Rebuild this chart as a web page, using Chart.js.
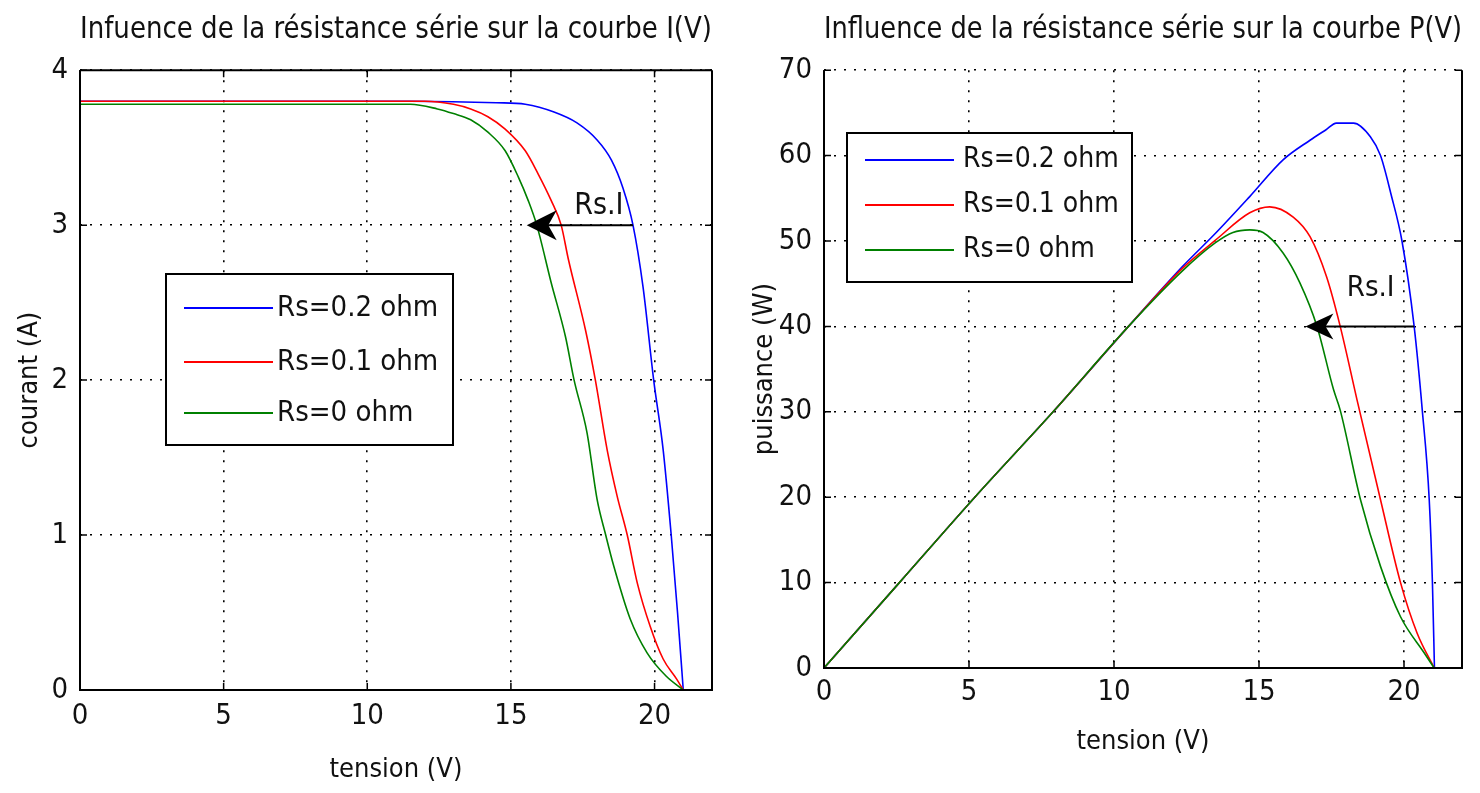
<!DOCTYPE html>
<html>
<head>
<meta charset="utf-8">
<script src="https://cdn.jsdelivr.net/npm/chart.js@4.4.0/dist/chart.umd.min.js"></script>
<style>
  body { margin: 0; background: #fff; }
  .box { position: absolute; top: 0; width: 740px; height: 793px; }
</style>
</head>
<body>
<div class="box" style="left:0"><canvas id="chartIV" width="740" height="793"></canvas></div>
<div class="box" style="left:740px"><canvas id="chartPV" width="740" height="793"></canvas></div>
<script>
// Labels
const seriesLabels = ["Rs=0.2 ohm", "Rs=0.1 ohm", "Rs=0 ohm"];
const seriesColors = ["#0000ff", "#ff0000", "#008000"];

// I(V) curves - tension (V) / courant (A)
const vBlueIV = [0, 11.5, 14.5, 15.5, 16.5, 17.3, 18.0, 18.5, 18.9, 19.25, 19.6, 19.97, 20.3, 20.58, 20.8, 21.0];
const iBlue = [3.80, 3.80, 3.79, 3.78, 3.73, 3.66, 3.55, 3.42, 3.24, 3.00, 2.60, 2.00, 1.55, 1.00, 0.50, 0];
const vRedIV = [0, 12.0, 13.0, 13.6, 14.2, 14.8, 15.5, 15.95, 16.4, 16.75, 17.0, 17.6, 17.94, 18.35, 18.7, 19.05, 19.4, 19.85, 20.3, 20.77, 21.0];
const iRed = [3.80, 3.80, 3.78, 3.75, 3.70, 3.62, 3.48, 3.33, 3.16, 3.00, 2.78, 2.32, 2.00, 1.55, 1.25, 1.00, 0.69, 0.41, 0.20, 0.07, 0];
const vGreenIV = [0, 11.5, 12.44, 13.0, 13.6, 14.2, 14.8, 15.26, 15.6, 15.9, 16.4, 16.9, 17.2, 17.65, 18.0, 18.3, 18.58, 19.15, 19.74, 20.4, 21.0];
const iGreen = [3.78, 3.78, 3.75, 3.72, 3.68, 3.60, 3.48, 3.31, 3.16, 3.00, 2.63, 2.28, 2.00, 1.66, 1.23, 1.00, 0.80, 0.46, 0.24, 0.09, 0];

// P(V) curves - tension (V) / puissance (W)
const vBluePV = [0, 2.6, 5.2, 7.9, 10.5, 12.36, 13.5, 14.68, 15.83, 16.76, 17.3, 17.67, 18.26, 18.84, 19.19, 19.55, 19.93, 20.35, 20.63, 20.87, 20.98, 21.05];
const pBlue = [0, 10, 20, 30, 40, 47.0, 50.9, 55.2, 59.5, 61.8, 63.0, 63.8, 63.8, 62.2, 60.0, 55.5, 50.0, 40, 30.2, 19.7, 10, 0];
const vRedPV = [0, 2.6, 5.2, 7.9, 10.5, 12.36, 13.5, 14.68, 15.37, 16.18, 16.76, 17.33, 17.8, 18.38, 19.19, 19.88, 20.45, 21.04];
const pRed = [0, 10, 20, 30, 40, 46.8, 50.1, 53.3, 54.0, 52.8, 50.5, 45.8, 40, 31.4, 19.7, 10, 4.1, 0];
const vGreenPV = [0, 2.6, 5.2, 7.9, 10.5, 12.36, 13.5, 14.1, 14.68, 15.14, 15.83, 16.41, 17.0, 17.57, 17.8, 18.5, 19.19, 19.88, 20.7, 21.04];
const pGreen = [0, 10, 20, 30, 40, 46.5, 49.8, 51.0, 51.3, 51.0, 48.6, 45.1, 40, 32.6, 30.2, 19.7, 11.9, 6.0, 1.75, 0];

// Rs.I arrows: [tail x, tip x, y, label x, label y]
const arrowIV = [19.25, 15.55, 3.0, 18.06, 3.12];
const arrowPV = [20.35, 16.6, 40, 18.85, 44.5];

const FONT = "'Liberation Sans Narrow', 'DejaVu Sans Condensed', 'Liberation Sans', sans-serif";
const TXT = "#111";

const toPoints = (xs, ys) => xs.map((x, i) => ({ x: x, y: ys[i] }));

const makeDatasets = (series) => series.map((s, i) => ({
  label: seriesLabels[i],
  data: toPoints(s[0], s[1]),
  borderColor: seriesColors[i],
  borderWidth: 1.6,
  pointRadius: 0,
  fill: false,
  cubicInterpolationMode: "monotone",
  order: 3 - i
}));

// frame, inward ticks, legend box and arrow
const extrasPlugin = {
  id: "extras",
  afterDatasetsDraw(chart, args, opts) {
    const { ctx, chartArea: a, scales } = chart;
    ctx.save();
    ctx.strokeStyle = "#000";
    ctx.lineWidth = 2;
    ctx.beginPath();
    if (opts.topBorder) { ctx.moveTo(a.left, a.top); ctx.lineTo(a.right, a.top); }
    ctx.moveTo(a.left, a.top); ctx.lineTo(a.left, a.bottom);
    ctx.lineTo(a.right, a.bottom); ctx.lineTo(a.right, a.top);
    ctx.stroke();

    ctx.lineWidth = 1.5;
    ctx.beginPath();
    scales.x.ticks.forEach(t => {
      const p = scales.x.getPixelForValue(t.value);
      ctx.moveTo(p, a.bottom); ctx.lineTo(p, a.bottom - 7);
      if (opts.topBorder) { ctx.moveTo(p, a.top); ctx.lineTo(p, a.top + 7); }
    });
    scales.y.ticks.forEach(t => {
      const p = scales.y.getPixelForValue(t.value);
      ctx.moveTo(a.left, p); ctx.lineTo(a.left + 7, p);
      ctx.moveTo(a.right, p); ctx.lineTo(a.right - 7, p);
    });
    ctx.stroke();

    // legend
    const lg = opts.legend;
    ctx.fillStyle = "#fff";
    ctx.fillRect(lg.x0, lg.y0, lg.x1 - lg.x0, lg.y1 - lg.y0);
    ctx.lineWidth = 2;
    ctx.strokeStyle = "#000";
    ctx.strokeRect(lg.x0, lg.y0, lg.x1 - lg.x0, lg.y1 - lg.y0);
    ctx.font = lg.size + "px " + FONT;
    ctx.textBaseline = "middle";
    ctx.textAlign = "left";
    chart.data.datasets.forEach((ds, i) => {
      const y = lg.rows[i];
      ctx.strokeStyle = ds.borderColor;
      ctx.lineWidth = 2;
      ctx.beginPath(); ctx.moveTo(lg.l0, y); ctx.lineTo(lg.l1, y); ctx.stroke();
      ctx.fillStyle = TXT;
      ctx.fillText(ds.label, lg.tx, y);
    });

    // arrow
    const ar = opts.arrow;
    const xt = scales.x.getPixelForValue(ar.data[0]);
    const xh = scales.x.getPixelForValue(ar.data[1]);
    const ya = scales.y.getPixelForValue(ar.data[2]);
    ctx.strokeStyle = "#000";
    ctx.lineWidth = 2;
    ctx.beginPath(); ctx.moveTo(xt, ya); ctx.lineTo(xh + 10, ya); ctx.stroke();
    ctx.fillStyle = "#000";
    ctx.beginPath();
    ctx.moveTo(xh, ya);
    ctx.lineTo(xh + ar.len, ya - ar.w);
    ctx.lineTo(xh + ar.len * 0.72, ya);
    ctx.lineTo(xh + ar.len, ya + ar.w);
    ctx.closePath();
    ctx.fill();
    ctx.font = ar.size + "px " + FONT;
    ctx.textAlign = "center";
    ctx.fillStyle = TXT;
    ctx.fillText("Rs.I", scales.x.getPixelForValue(ar.data[3]), scales.y.getPixelForValue(ar.data[4]));
    ctx.restore();
  }
};

const buildChart = (id, cfg) => new Chart(document.getElementById(id), {
  type: "line",
  data: { datasets: cfg.datasets },
  plugins: [extrasPlugin],
  options: {
    responsive: false,
    animation: false,
    layout: { padding: { left: 0, right: cfg.padRight, top: 0, bottom: 0 } },
    plugins: {
      legend: { display: false },
      tooltip: { enabled: false },
      title: {
        display: true, text: cfg.title, fullSize: false, color: TXT,
        font: { family: FONT, size: 31, weight: "normal" },
        padding: { top: 11, bottom: 22 }
      },
      extras: cfg.extras
    },
    scales: {
      x: {
        type: "linear", min: 0, max: 22,
        afterFit: s => { s.height = cfg.xHeight; },
        ticks: { stepSize: 5, includeBounds: false, maxRotation: 0, padding: cfg.xTickPad, color: TXT, font: { family: FONT, size: 29 } },
        grid: { color: "#000", lineWidth: 1.6, drawTicks: false },
        border: { display: false, dash: [2, 8] },
        title: { display: true, text: "tension (V)", color: TXT, font: { family: FONT, size: 27 }, padding: { top: 0, bottom: cfg.xTitlePad } }
      },
      y: {
        type: "linear", min: 0, max: cfg.yMax,
        afterFit: s => { s.width = cfg.yWidth; },
        ticks: { stepSize: cfg.yStep, padding: 12, color: TXT, font: { family: FONT, size: 29 } },
        grid: { color: "#000", lineWidth: 1.6, drawTicks: false },
        border: { display: false, dash: [2, 8] },
        title: { display: true, text: cfg.yTitle, color: TXT, font: { family: FONT, size: 27 }, padding: { top: cfg.yTitlePad, bottom: 0 } }
      }
    }
  }
});

buildChart("chartIV", {
  title: "Infuence de la résistance série sur la courbe I(V)",
  datasets: makeDatasets([[vBlueIV, iBlue], [vRedIV, iRed], [vGreenIV, iGreen]]),
  padRight: 28, xHeight: 103, xTickPad: 9, xTitlePad: 7,
  yMax: 4, yStep: 1, yWidth: 80, yTitle: "courant (A)", yTitlePad: 14,
  extras: {
    topBorder: true,
    legend: { x0: 166, y0: 274, x1: 453, y1: 445, l0: 184, l1: 273, tx: 277, rows: [308, 362, 413], size: 29 },
    arrow: { data: arrowIV, len: 30, w: 15, size: 30 }
  }
});

buildChart("chartPV", {
  title: "Influence de la résistance série sur la courbe P(V)",
  datasets: makeDatasets([[vBluePV, pBlue], [vRedPV, pRed], [vGreenPV, pGreen]]),
  padRight: 18, xHeight: 125, xTickPad: 7, xTitlePad: 35,
  yMax: 70, yStep: 10, yWidth: 84, yTitle: "puissance (W)", yTitlePad: 9,
  extras: {
    topBorder: false,
    legend: { x0: 107, y0: 133, x1: 392, y1: 282, l0: 125, l1: 214, tx: 223, rows: [160, 205, 250], size: 28 },
    arrow: { data: arrowPV, len: 28, w: 13, size: 29 }
  }
});
</script>
</body>
</html>
